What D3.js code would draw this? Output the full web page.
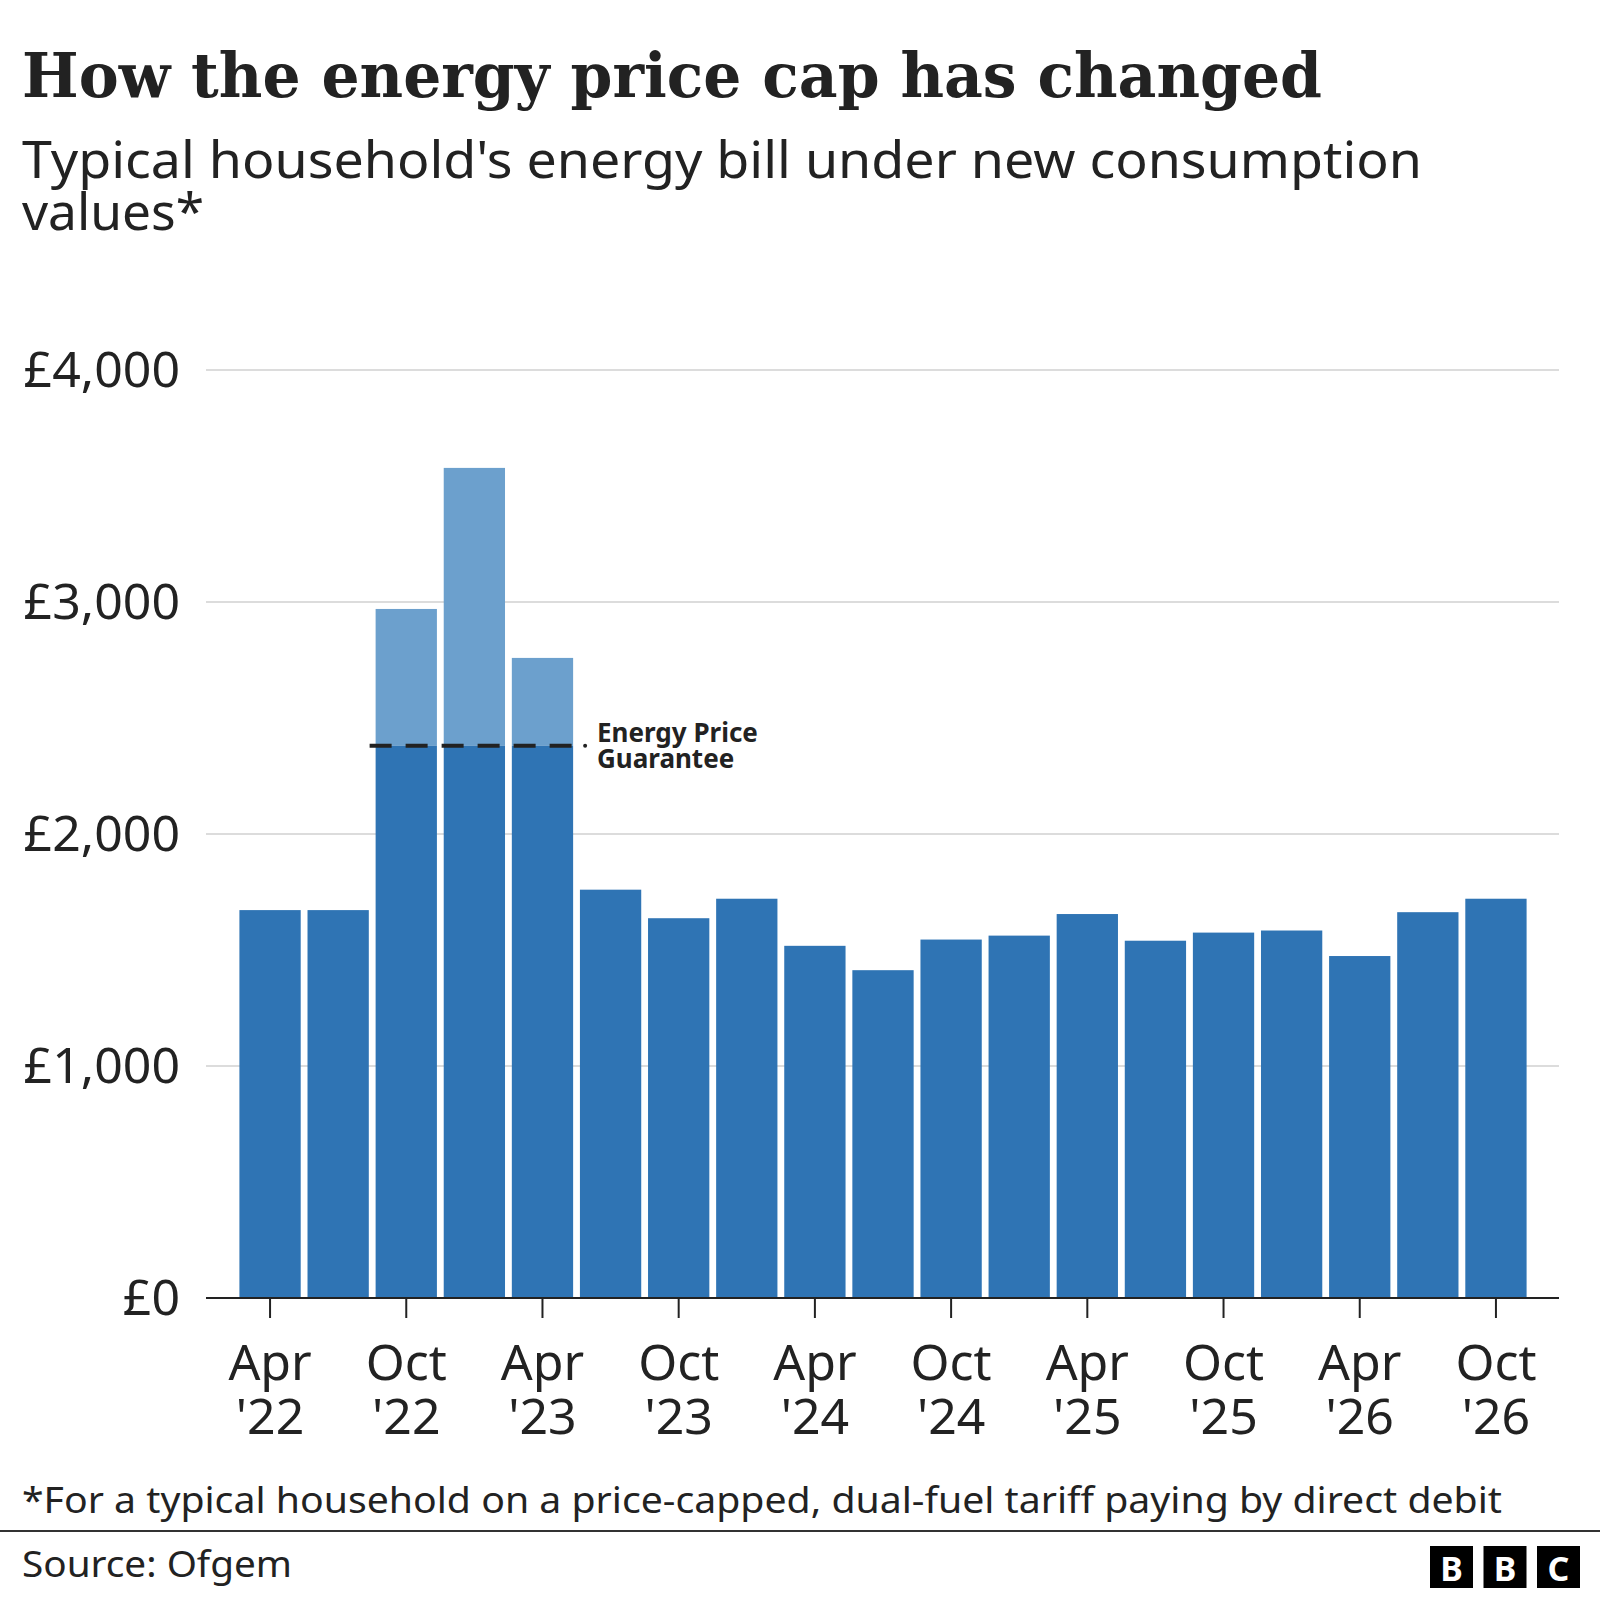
<!DOCTYPE html>
<html><head><meta charset="utf-8">
<script src="https://cdn.jsdelivr.net/npm/d3@7"></script>
<style>body{margin:0;background:#fff}</style>
</head><body><div id="chart"></div>
<script>
const periods = ["Apr22","Jul22","Oct22","Jan23","Apr23","Jul23","Oct23","Jan24","Apr24","Jul24","Oct24","Jan25","Apr25","Jul25","Oct25","Jan26","Apr26","Jul26","Oct26"];
const capValues = [1672,1672,2970,3578,2759,1760,1637,1721,1518,1413,1545,1562,1655,1540,1575,1584,1474,1663,1721];
const guarantee = 2380;
const guaranteePeriods = ["Oct22","Jan23","Apr23"];
const tickPeriods = ["Apr22","Oct22","Apr23","Oct23","Apr24","Oct24","Apr25","Oct25","Apr26","Oct26"];
const yTicks = [0,1000,2000,3000,4000];

const W = 1600, H = 1600, font = "'Noto Sans', 'Open Sans', sans-serif";
const svg = d3.select('#chart').append('svg').attr('width',W).attr('height',H).style('font-family',font);

svg.append('text').text('How the energy price cap has changed')
  .attr('x',22).attr('y',97).attr('font-family',"'DejaVu Serif', serif").attr('font-weight','bold')
  .attr('font-size',62).attr('fill','#222').attr('textLength',1300).attr('lengthAdjust','spacingAndGlyphs');
svg.append('text').text("Typical household's energy bill under new consumption")
  .attr('x',22).attr('y',178).attr('font-size',51).attr('fill','#222')
  .attr('textLength',1400).attr('lengthAdjust','spacingAndGlyphs');
svg.append('text').text('values*').attr('x',22).attr('y',230).attr('font-size',51).attr('fill','#222')
  .attr('textLength',182).attr('lengthAdjust','spacingAndGlyphs');

const x = d3.scaleBand().domain(periods).range([236,1530]).paddingInner(0.1).paddingOuter(0.05);
const y = d3.scaleLinear().domain([0,4000]).range([1298,370]);

svg.append('g').selectAll('line').data(yTicks.slice(1)).join('line')
  .attr('x1',206).attr('x2',1559).attr('y1',d=>y(d)).attr('y2',d=>y(d))
  .attr('stroke','#dcdcdc').attr('stroke-width',2);
svg.append('g').selectAll('text').data(yTicks).join('text')
  .attr('x',180).attr('y',d=>y(d)+17).attr('text-anchor','end').attr('font-size',50).attr('fill','#222')
  .text(d=>'£'+d3.format(',')(d));

const bars = svg.append('g');
periods.forEach((p,i)=>{
  const v = capValues[i];
  const g = guaranteePeriods.includes(p);
  if (g) {
    bars.append('rect').attr('x',x(p)).attr('width',x.bandwidth())
      .attr('y',y(v)).attr('height',y(guarantee)-y(v)).attr('fill','#6ca0cd');
  }
  const top = g ? guarantee : v;
  bars.append('rect').attr('x',x(p)).attr('width',x.bandwidth())
    .attr('y',y(top)).attr('height',y(0)-y(top)).attr('fill','#2f74b4');
});

svg.append('line').attr('x1',x('Oct22')-6).attr('x2',x('Apr23')+x.bandwidth()+2)
  .attr('y1',y(guarantee)).attr('y2',y(guarantee)).attr('stroke','#222').attr('stroke-width',4)
  .attr('stroke-dasharray','22,14');
svg.append('circle').attr('cx',x('Apr23')+x.bandwidth()+12).attr('cy',y(guarantee)).attr('r',2).attr('fill','#222');
const lab = svg.append('text').attr('font-size',26).attr('font-weight','bold').attr('fill','#222');
lab.append('tspan').attr('x',597).attr('y',742).text('Energy Price');
lab.append('tspan').attr('x',597).attr('y',768).text('Guarantee');

svg.append('line').attr('x1',206).attr('x2',1559).attr('y1',y(0)).attr('y2',y(0)).attr('stroke','#222').attr('stroke-width',2);
const tk = svg.append('g').selectAll('g').data(tickPeriods).join('g')
  .attr('transform',d=>`translate(${x(d)+x.bandwidth()/2},0)`);
tk.append('line').attr('y1',y(0)).attr('y2',y(0)+20).attr('stroke','#222').attr('stroke-width',2);
tk.append('text').attr('y',1380).attr('text-anchor','middle').attr('font-size',50).attr('fill','#222').text(d=>d.slice(0,3));
tk.append('text').attr('y',1434).attr('text-anchor','middle').attr('font-size',50).attr('fill','#222').text(d=>"'"+d.slice(3));

svg.append('text').text('*For a typical household on a price-capped, dual-fuel tariff paying by direct debit')
  .attr('x',22).attr('y',1513).attr('font-size',36).attr('fill','#222')
  .attr('textLength',1480).attr('lengthAdjust','spacingAndGlyphs');
svg.append('line').attr('x1',0).attr('x2',W).attr('y1',1531).attr('y2',1531).attr('stroke','#333').attr('stroke-width',2);
svg.append('text').text('Source: Ofgem').attr('x',22).attr('y',1577).attr('font-size',36).attr('fill','#222')
  .attr('textLength',270).attr('lengthAdjust','spacingAndGlyphs');
['B','B','C'].forEach((c,i)=>{
  const bx = 1430 + i*53.5;
  svg.append('rect').attr('x',bx).attr('y',1546).attr('width',43).attr('height',42).attr('fill','#000');
  svg.append('text').attr('x',bx+21.5).attr('y',1581).attr('text-anchor','middle').attr('font-size',34)
    .attr('font-weight','bold').attr('fill','#fff').text(c);
});
</script></body></html>
